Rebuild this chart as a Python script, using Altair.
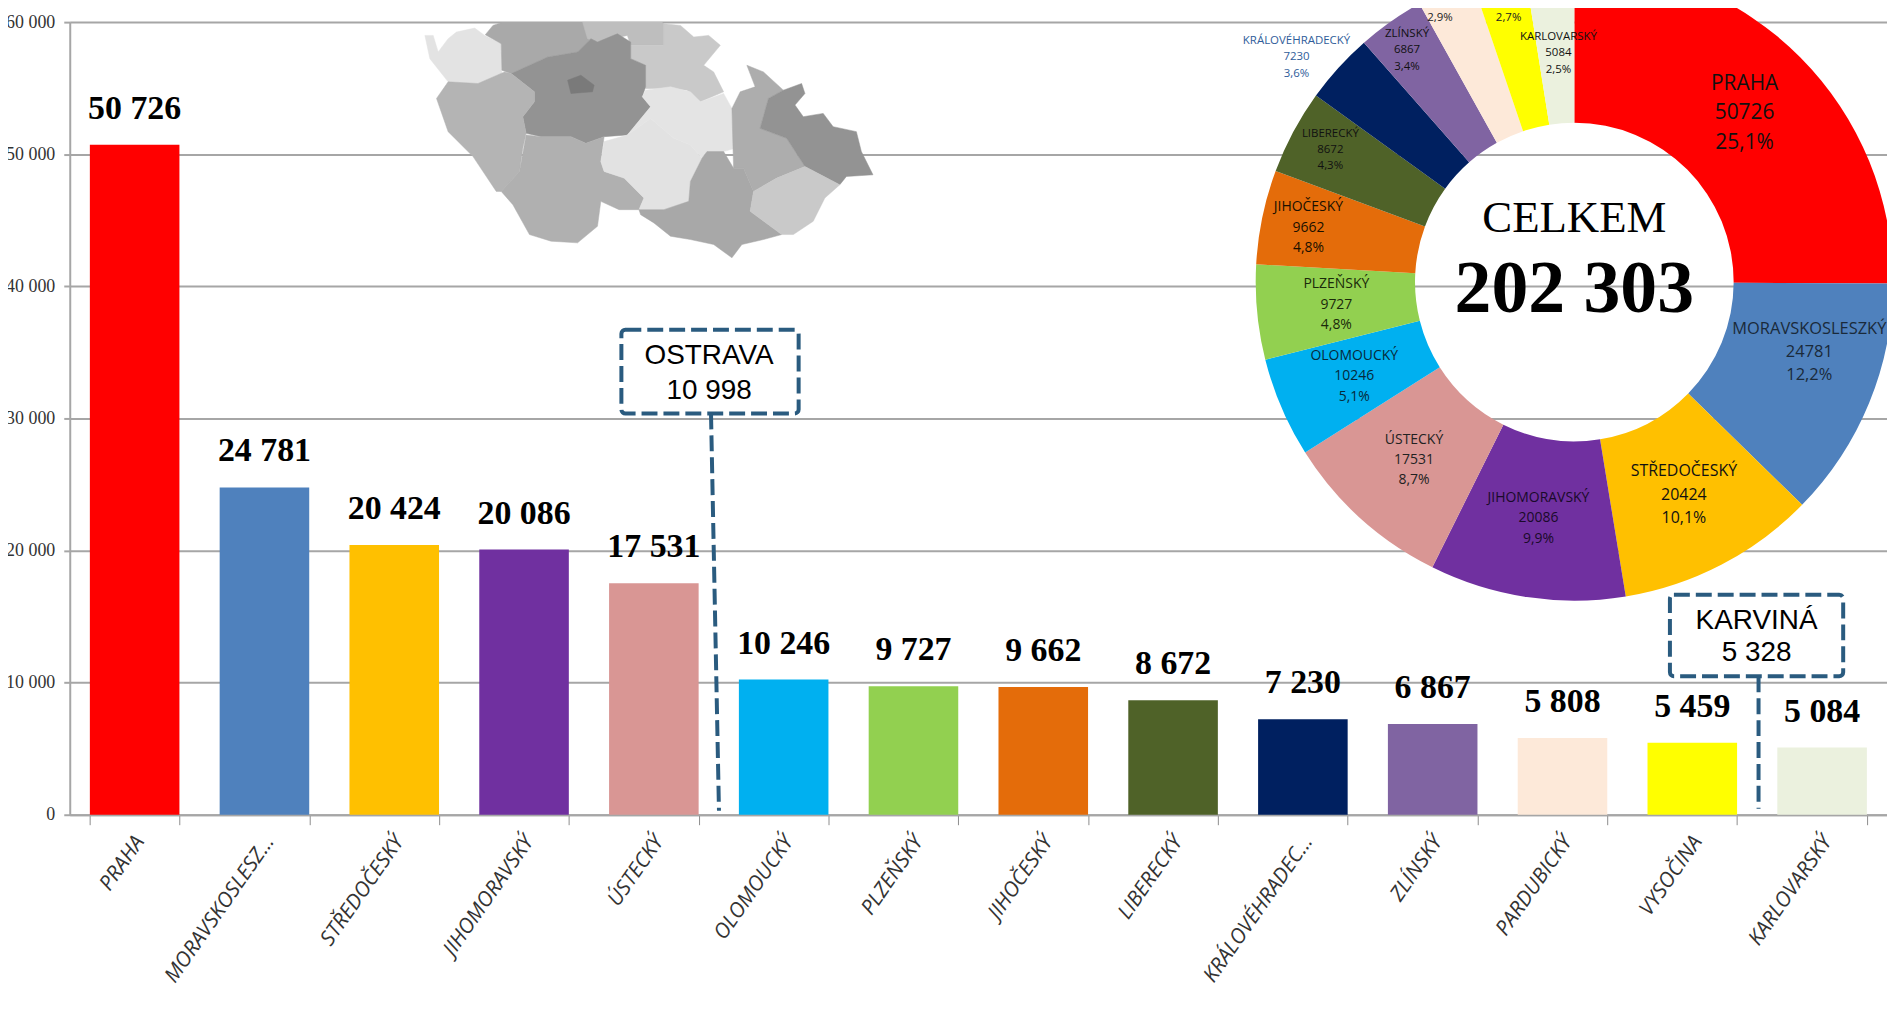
import altair as alt
import pandas as pd

# ---- data ----
REGIONS = ["PRAHA", "MORAVSKOSLESZKÝ", "STŘEDOČESKÝ", "JIHOMORAVSKÝ", "ÚSTECKÝ", "OLOMOUCKÝ", "PLZEŇSKÝ",
           "JIHOČESKÝ", "LIBERECKÝ", "KRÁLOVÉHRADECKÝ", "ZLÍNSKÝ", "PARDUBICKÝ", "VYSOČINA", "KARLOVARSKÝ"]
VALUES = [50726, 24781, 20424, 20086, 17531, 10246, 9727, 9662, 8672, 7230, 6867, 5808, 5459, 5084]
SHARES = ["25,1%", "12,2%", "10,1%", "9,9%", "8,7%", "5,1%", "4,8%", "4,8%", "4,3%", "3,6%", "3,4%", "2,9%", "2,7%", "2,5%"]
COLORS = ["#FF0000", "#4F81BD", "#FFC000", "#7030A0", "#D99694", "#00B0F0", "#92D050", "#E46C0A", "#4F6228",
          "#002060", "#8064A2", "#FDE9D9", "#FFFF00", "#EBF1DE"]
Y_TICKS = [0, 10000, 20000, 30000, 40000, 50000, 60000]
TOTAL_LABEL = "CELKEM"
TOTAL_VALUE = "202 303"
CALLOUTS = [("OSTRAVA", "10 998"), ("KARVINÁ", "5 328")]

# ---- layout (screen pixels of the 1895x1032 picture) ----
PX, PY = 70, 20          # plot origin
W, H = 1825, 796
CX, CY = 1581, 281       # donut centre
DONUT_POS = [            # x, y of first line, line gap, font size, colour
    (1752, 82, 29.5, 21, "#111"), (1817, 328, 23, 16.5, "#1a2a3a"), (1691, 471, 23.5, 16, "#111"),
    (1545, 498, 20.5, 14, "#1a0a2a"), (1420, 440, 20, 14, "#222"), (1360, 355.5, 20.3, 14, "#062a3a"),
    (1342, 283.5, 20.3, 14, "#1a2a0a"), (1314, 206, 20.5, 14, "#1a1000"), (1336, 132, 16.3, 11.5, "#111"),
    (1302, 39, 16.5, 11.5, "#2F5D9A"), (1413, 32, 16.5, 11.5, "#111"), (1446, -17, 16.5, 11.5, "#222"),
    (1515, -17, 16.5, 11.5, "#222"), (1565, 35, 16.5, 11.5, "#111"),
]
DASH = "#2A5B7F"
MAP_FILLS = {"karlovy": "#E3E3E3", "usti": "#A9A9A9", "liberec": "#BEBEBE", "hradec": "#C9C9C9",
             "stred": "#939393", "praha": "#7A7A7A", "plzen": "#B4B4B4", "budejovice": "#B0B0B0",
             "vysocina": "#E2E2E2", "pardubice": "#E4E4E4", "brno": "#A8A8A8", "olomouc": "#ADADAD",
             "ostrava": "#939393", "zlin": "#C9C9C9"}
# outline vertices in the 3x crop of the map (origin at screen x=400, y=0)
MAP_SHAPES = {
    "karlovy": [(80,100),(105,100),(120,150),(150,110),(175,90),(230,78),(260,100),(310,125),(312,215),(240,245),(150,240),(95,170)],
    "usti": [(262,98),(285,70),(345,50),(380,20),(470,8),(500,-10),(610,-10),(555,60),(580,110),(540,150),(450,165),(340,215),(312,205),(310,125)],
    "liberec": [(610,-10),(650,15),(740,-10),(770,40),(800,65),(800,130),(700,130),(690,100),(600,120),(570,110),(555,60)],
    "hradec": [(800,65),(850,70),(890,105),(935,100),(970,130),(920,190),(950,210),(980,270),(910,300),(870,265),(820,260),(745,260),(745,190),(700,170),(700,130),(800,130)],
    "stred": [(580,110),(600,120),(660,95),(700,120),(700,170),(745,190),(745,255),(735,285),(760,315),(690,400),(620,405),(565,425),(520,405),(430,405),(385,395),(375,345),(410,300),(410,270),(340,215),(450,165),(540,150)],
    "plzen": [(150,240),(240,245),(320,210),(340,215),(410,270),(410,300),(375,345),(385,395),(375,440),(365,510),(310,570),(295,570),(225,465),(150,390),(115,290)],
    "budejovice": [(385,400),(430,405),(520,405),(565,425),(620,405),(610,480),(620,510),(680,530),(740,590),(725,625),(665,625),(610,600),(600,675),(540,725),(460,720),(395,700),(345,610),(310,570),(365,510)],
    "vysocina": [(690,400),(760,350),(830,410),(880,430),(915,470),(880,540),(875,600),(800,625),(725,625),(740,590),(680,530),(620,510),(610,480),(620,420)],
    "pardubice": [(745,265),(820,255),(880,270),(910,300),(980,275),(1005,320),(1010,410),(1015,440),(980,450),(930,450),(915,470),(880,430),(830,410),(760,350),(690,400),(760,315),(735,285)],
    "brno": [(915,470),(930,450),(980,450),(1010,500),(1040,500),(1070,570),(1060,630),(1155,700),(1100,715),(1035,730),(1005,770),(950,730),(880,715),(820,705),(770,665),(730,640),(725,625),(800,625),(875,600),(880,540)],
    "olomouc": [(1050,190),(1100,210),(1160,265),(1115,290),(1090,380),(1170,410),(1225,495),(1140,530),(1070,570),(1040,500),(1010,500),(1005,320),(1030,270),(1075,255)],
    "ostrava": [(1160,265),(1215,245),(1225,275),(1195,310),(1220,345),(1280,335),(1310,375),(1380,390),(1395,450),(1430,520),(1350,525),(1330,550),(1225,495),(1170,410),(1090,380),(1115,290)],
    "zlin": [(1225,495),(1330,550),(1285,590),(1250,660),(1190,700),(1155,700),(1060,630),(1070,570),(1140,530)],
    "praha": [(510,235),(550,220),(590,250),(585,270),(520,275)],
}
STRIPE_COL = {"d": "#005FA0", "m": "#3A94D6", "l": "#9DC8EA"}
# (crop origin x, [(colour, start in 3x crop)...])
STRIPE_1 = [("d",30),("m",52),("l",120),("m",150),("d",170),("m",310),("d",335),("l",402),("m",430),("d",478),("m",615),("l",640),("m",710),("d",852),("m",875),("l",945),("m",972),("d",1178),("l",1340),("m",1362),("d",1412)]
STRIPE_2 = [("d",0),("m",50),("l",75),("m",218),("d",288),("m",310),("l",430),("m",530),("d",722),("m",742),("l",815),("m",840),("d",958),("l",1218),("m",1335),("d",1380),("m",1400),("d",1480)]
STRIPE_3 = [("d",0),("m",158),("l",183),("m",207),("d",260),("m",282),("l",425),("d",450),("m",472),("l",565),("m",610),("d",682),("m",822),("d",848),("l",918),("m",940),("d",990),("m",1128),("l",1150),("m",1225),("d",1295),("m",1312)]
STRIPE_END = 1060 + 1360 / 3

NARROW = "Liberation Sans Narrow"
ARIAL = "Liberation Sans"

# ---- tables ----
df = pd.DataFrame({"region": REGIONS, "value": VALUES, "color": COLORS, "idx": range(len(REGIONS))})
df["label"] = [f"{v:,}".replace(",", " ") for v in VALUES]

rows = []
for name, val, share, (x, y, gap, fs, col) in zip(REGIONS, VALUES, SHARES, DONUT_POS):
    for k, t in enumerate([name, str(val), share]):
        rows.append({"t": t, "px": x - PX, "py": y + k * gap - PY, "fs": fs, "col": col})
donut_text = pd.DataFrame(rows)


def poly(points, fill):
    ring = [list(p) for p in points] + [list(points[0])]
    return {"type": "Feature", "properties": {"fill": fill},
            "geometry": {"type": "Polygon", "coordinates": [ring]}}


features = [poly([(x / 3 + 400, y / 3) for x, y in pts], MAP_FILLS[k]) for k, pts in MAP_SHAPES.items()]

edges = []
for origin, segs in ((60, STRIPE_1), (560, STRIPE_2), (1060, STRIPE_3)):
    edges += [(c, origin + x / 3) for c, x in segs]
ends = [e[1] for e in edges[1:]] + [STRIPE_END]
TOP, BOT = 1019, 1032
for (c, a), b in zip(edges, ends):
    s = 5.0
    features.append(poly([(a, BOT), (b, BOT), (b + s, TOP), (a + s, TOP)], STRIPE_COL[c]))

proj = alt.Projection(type="identity", scale=1, translate=[-PX, -PY])
geo = (alt.Chart(alt.Data(values=features)).mark_geoshape(strokeWidth=0.5)
       .encode(fill=alt.Fill("properties.fill:N", scale=None),
               stroke=alt.Stroke("properties.fill:N", scale=None))
       .project(type="identity", scale=1, translate=[-PX, -PY]))

# ---- bars ----
x_enc = alt.X("region:N", sort=REGIONS, title=None,
              scale=alt.Scale(paddingInner=0.31, paddingOuter=0.155),
              axis=alt.Axis(labelAngle=305, labelAlign="right", labelBaseline="middle", labelFont="Open Sans",
                            labelFontStyle="italic", labelFontSize=21, labelColor="#333333", labelPadding=13,
                            labelOffset=5, labelOverlap=False, tickBand="extent", tickSize=10, tickColor="#8c8c8c",
                            tickWidth=1, domainColor="#A6A6A6", domainWidth=2, grid=False))
y_enc = alt.Y("value:Q", stack=None, title=None, scale=alt.Scale(domain=[0, 60000], nice=False),
              axis=alt.Axis(values=Y_TICKS, labelExpr="replace(format(datum.value, ','), ',', ' ')",
                            labelFont=NARROW, labelFontSize=18, labelColor="#333333", labelPadding=9, tickSize=6,
                            tickColor="#A6A6A6", tickWidth=2, domainColor="#A6A6A6", domainWidth=2, grid=True,
                            gridColor="#A6A6A6", gridWidth=2))
bars = alt.Chart(df).mark_bar(stroke=None).encode(x=x_enc, y=y_enc, fill=alt.Fill("color:N", scale=None))
bar_text = (alt.Chart(df).mark_text(font=NARROW, fontWeight="bold", fontSize=34, color="black", baseline="middle", dy=-36)
            .encode(x=alt.X("region:N", sort=REGIONS), y=alt.Y("value:Q", stack=None), text="label:N"))

# ---- donut ----
arc = (alt.Chart(df).mark_arc(innerRadius=160, outerRadius=320)
       .encode(theta=alt.Theta("value:Q", stack=True), order=alt.Order("idx:Q"),
               fill=alt.Fill("color:N", scale=None), x=alt.value(CX - PX), y=alt.value(CY - PY)))
arc_text = (alt.Chart(donut_text).mark_text(font="Open Sans", baseline="middle", align="center")
            .encode(x=alt.X("px:Q", scale=None, axis=None), y=alt.Y("py:Q", scale=None, axis=None), text="t:N",
                    size=alt.Size("fs:Q", scale=None, legend=None), color=alt.Color("col:N", scale=None)))


def label(text, x, y, **kw):
    return (alt.Chart(alt.Data(values=[{}])).mark_text(baseline="middle", align="center", **kw)
            .encode(x=alt.value(x - PX), y=alt.value(y - PY), text=alt.value(text)))


def box(x0, y0, x1, y1):
    return (alt.Chart(alt.Data(values=[{}]))
            .mark_rect(fillOpacity=0, stroke=DASH, strokeWidth=4, strokeDash=[16, 6], cornerRadius=4)
            .encode(x=alt.value(x0 - PX), x2=alt.value(x1 - PX), y=alt.value(y0 - PY), y2=alt.value(y1 - PY)))


def leader(x0, y0, x1, y1):
    return (alt.Chart(alt.Data(values=[{}])).mark_rule(color=DASH, strokeWidth=4, strokeDash=[16, 6])
            .encode(x=alt.value(x0 - PX), x2=alt.value(x1 - PX), y=alt.value(y0 - PY), y2=alt.value(y1 - PY)))


layers = [geo, bars, bar_text, arc, arc_text,
          label(TOTAL_LABEL, CX, 217, font=NARROW, fontSize=45, color="black"),
          label(TOTAL_VALUE, CX, 289, font=NARROW, fontWeight="bold", fontSize=74, color="black"),
          box(624, 329, 802, 413), leader(714, 413, 722, 812),
          label(CALLOUTS[0][0], 712, 355, font=ARIAL, fontSize=28, color="black"),
          label(CALLOUTS[0][1], 712, 390, font=ARIAL, fontSize=28, color="black"),
          box(1677, 595, 1851, 677), leader(1766, 677, 1766, 810),
          label(CALLOUTS[1][0], 1764, 621, font=ARIAL, fontSize=28, color="black"),
          label(CALLOUTS[1][1], 1764, 654, font=ARIAL, fontSize=28, color="black")]

chart = (alt.layer(*layers)
         .properties(width=W, height=H, autosize=alt.AutoSizeParams(type="none"),
                     padding={"left": PX - 8, "top": PY - 8, "right": 0, "bottom": 1024 - (PY - 8) - H})
         .configure_view(stroke=None)
         .configure_legend(disable=True))

chart.save("out.html", embed_options={"renderer": "svg", "actions": False})
